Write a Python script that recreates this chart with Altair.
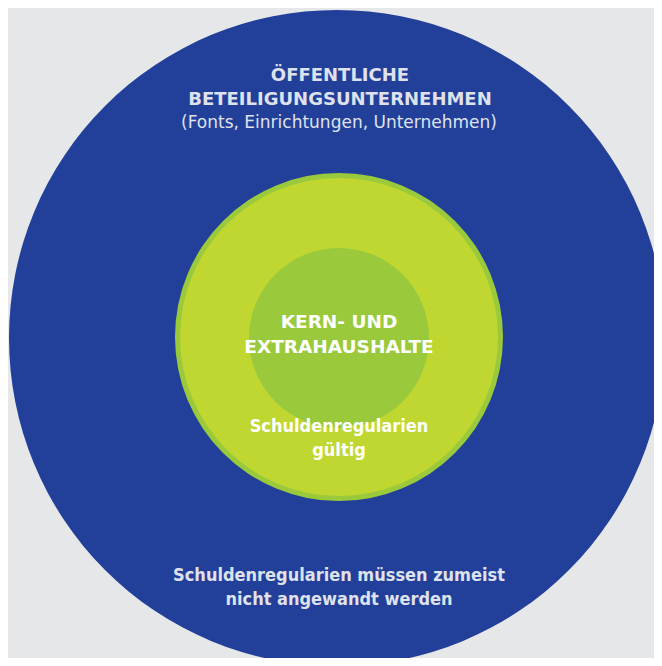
import altair as alt
import pandas as pd

# ---- diagram content -------------------------------------------------------
# nested circles (radius in px, centre offset in px from the diagram centre)
circle_names = ["Öffentliche Beteiligungsunternehmen", "Rand", "Schuldenregularien gültig", "Kern- und Extrahaushalte"]
circle_radius = [328, 164, 159, 90]
circle_cx = [-1, 1, 1, 1]
circle_cy = [0, 1, 1, 0]
circle_colors = ["#22409a", "#9aca3c", "#bfd730", "#9aca3c"]

# text lines
label_text = [
    "ÖFFENTLICHE",
    "BETEILIGUNGSUNTERNEHMEN",
    "(Fonts, Einrichtungen, Unternehmen)",
    "KERN- UND",
    "EXTRAHAUSHALTE",
    "Schuldenregularien",
    "gültig",
    "Schuldenregularien müssen zumeist",
    "nicht angewandt werden",
]
label_group = ["outer_title", "outer_title", "outer_sub", "core", "core",
               "inner_note", "inner_note", "outer_note", "outer_note"]
label_x = [2, 2, 1, 1, 1, 1, 1, 1, 1]
label_y = [257, 233, 210, 10, -15, -94, -118, -243, -267]

circles = pd.DataFrame({
    "name": circle_names,
    "r": circle_radius,
    "cx": circle_cx,
    "cy": circle_cy,
    "idx": list(range(len(circle_names))),
})
labels = pd.DataFrame({"text": label_text, "group": label_group, "x": label_x, "y": label_y})

W, H = 646, 650
xs = alt.Scale(domain=[-330, 316], range=[0, W])
ys = alt.Scale(domain=[-320, 330], range=[H, 0])

circ = alt.Chart(circles).transform_calculate(
    size="pow(2 * datum.r, 2)"
).mark_point(filled=True, shape="circle", opacity=1, strokeWidth=0).encode(
    x=alt.X("cx:Q", scale=xs, axis=None),
    y=alt.Y("cy:Q", scale=ys, axis=None),
    size=alt.Size("size:Q", scale=None, legend=None),
    color=alt.Color("name:N", scale=alt.Scale(domain=circle_names, range=circle_colors), legend=None),
    order=alt.Order("idx:Q"),
)

styles = {
    "outer_title": dict(font="DejaVu Sans", fontSize=18, fontWeight="bold", color="#dfe2ec"),
    "outer_sub": dict(font="DejaVu Sans", fontSize=17, fontWeight="normal", color="#dfe2ec"),
    "core": dict(font="DejaVu Sans", fontSize=18.5, fontWeight="bold", color="#ffffff"),
    "inner_note": dict(font="DejaVu Sans Condensed", fontSize=18, fontWeight="bold", color="#ffffff"),
    "outer_note": dict(font="DejaVu Sans Condensed", fontSize=18, fontWeight="bold", color="#dfe2ec"),
}

text_layers = []
for g, st in styles.items():
    text_layers.append(
        alt.Chart(labels).transform_filter(alt.datum.group == g).mark_text(
            align="center", baseline="alphabetic", **st
        ).encode(
            x=alt.X("x:Q", scale=xs, axis=None),
            y=alt.Y("y:Q", scale=ys, axis=None),
            text="text:N",
        )
    )

chart = alt.layer(circ, *text_layers).properties(
    width=W, height=H, padding=0, autosize="none", background="#e6e7e8"
).configure_view(stroke=None)

chart.save("out.html", embed_options={"renderer": "svg", "actions": False})
